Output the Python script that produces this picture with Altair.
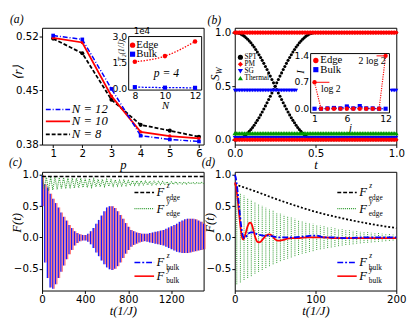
import altair as alt
import pandas as pd

SERIF = "Liberation Serif"
SANS = "DejaVu Sans"
BLUE = "#0000ff"
RED = "#ff0000"
GREEN = "#009900"
LGREEN = "#2e9b2e"
BLACK = "#000000"
PINK = "#ff5a5a"

W = 166
H1 = 120
H2 = 122

# ---------------- panel (a) ----------------
p_vals = [1, 2, 3, 4, 5, 6]
r_n12 = [0.521, 0.516, 0.452, 0.3915, 0.3866, 0.384]
r_n10 = [0.518, 0.512, 0.4426, 0.3964, 0.391, 0.388]
r_n8 = [0.517, 0.498, 0.438, 0.4055, 0.398, 0.390]
a_xdom = [0.62, 6.16]
a_ydom = [0.38, 0.531]
a_leg_labels = ["N = 12", "N = 10", "N = 8"]
a_leg_y = [0.4253, 0.410, 0.3932]
a_leg_x = [0.75, 1.58, 1.64]

ins_a_N = [8, 10, 12]
ins_a_edge = [1.56, 1.89, 2.73]
ins_a_bulk = [0.10, 0.07, 0.06]
ins_a_xdom = [7.59, 12.44]
ins_a_ydom = [-0.07, 3.02]
ins_a_xrange = [89, 164]
ins_a_yrange = [64, 9]

# ---------------- panel (b) ----------------
t_b = [round(0.01 * i, 2) for i in range(101)]
spt_fall = [1.0, 0.999, 0.996, 0.991, 0.984, 0.976, 0.965, 0.952, 0.938, 0.922,
            0.905, 0.885, 0.865, 0.842, 0.819, 0.794, 0.768, 0.741, 0.713, 0.684,
            0.655, 0.624, 0.594, 0.563, 0.531, 0.5, 0.469, 0.437, 0.406, 0.376,
            0.345, 0.316, 0.287, 0.259, 0.232, 0.206, 0.181, 0.158, 0.136, 0.115,
            0.096, 0.078, 0.062, 0.048, 0.035, 0.025, 0.016, 0.009, 0.004, 0.001, 0.0]
spt_rise = [0.0, 0.001, 0.004, 0.009, 0.016, 0.024, 0.035, 0.048, 0.062, 0.078,
            0.095, 0.115, 0.135, 0.158, 0.181, 0.206, 0.232, 0.259, 0.287, 0.316,
            0.345, 0.376, 0.406, 0.437, 0.469, 0.5, 0.531, 0.563, 0.594, 0.624,
            0.655, 0.684, 0.713, 0.741, 0.768, 0.794, 0.819, 0.842, 0.865, 0.885,
            0.905, 0.922, 0.938, 0.952, 0.965, 0.976, 0.984, 0.991, 0.996, 0.999, 1.0]
spt_after_levels = [1.0, 0.0]
pm_levels = [1.0, 0.0]
sg_high = 0.46
sg_low = 0.02
sg_high_tmax = 0.38
sg_high_tmin2 = 0.97
thermal_level = 0.06
b_xdom = [0.0, 1.0]
b_ydom = [-0.045, 1.045]
b_leg_labels = ["SPT", "PM", "SG", "Thermal"]
b_leg_y = [0.77, 0.705, 0.64, 0.575]

ins_b_j = [1, 2, 3, 4, 5, 6, 7, 8, 9, 10, 11, 12]
ins_b_edge = [0.69, 0.0, 0.0, 0.0, 0.0, 0.0, 0.0, 0.0, 0.0, 0.0, 0.0, 1.38]
ins_b_bulk = [0.0, 0.0, 0.01, 0.02, 0.01, 0.06, 0.01, 0.07, 0.01, 0.01, 0.0, 0.0]
ins_b_xdom = [0.4, 12.6]
ins_b_ydom = [-0.11, 1.44]
ins_b_xrange = [78, 159]
ins_b_yrange = [87.5, 26.5]

# ---------------- panel (c) ----------------
t_c = list(range(0, 1501, 25))
bulk_c_hi = [1.0, 0.85, 0.8, 0.7, 0.62, 0.55, 0.48, 0.4, 0.33, 0.27,
             0.2, 0.15, 0.1, 0.07, 0.05, 0.04, 0.04, 0.06, 0.1, 0.15,
             0.22, 0.28, 0.35, 0.42, 0.48, 0.5, 0.5, 0.47, 0.42, 0.36,
             0.3, 0.23, 0.17, 0.12, 0.1, 0.08, 0.07, 0.06, 0.06, 0.06,
             0.07, 0.08, 0.09, 0.1, 0.11, 0.12, 0.14, 0.16, 0.18, 0.2,
             0.22, 0.25, 0.27, 0.29, 0.3, 0.3, 0.3, 0.29, 0.27, 0.25, 0.22]
bulk_c_lo = [0.5, -0.4, -0.65, -0.8, -0.82, -0.75, -0.65, -0.55, -0.45, -0.35,
             -0.27, -0.2, -0.13, -0.09, -0.06, -0.05, -0.05, -0.07, -0.11, -0.17,
             -0.24, -0.3, -0.37, -0.43, -0.48, -0.51, -0.52, -0.5, -0.46, -0.4,
             -0.33, -0.26, -0.2, -0.15, -0.12, -0.1, -0.08, -0.07, -0.06, -0.07,
             -0.08, -0.09, -0.1, -0.11, -0.12, -0.13, -0.15, -0.17, -0.19, -0.21,
             -0.23, -0.24, -0.25, -0.25, -0.25, -0.24, -0.23, -0.22, -0.21, -0.2, -0.19]
green_c_hi_t = list(range(0, 1481, 40))
green_c_hi = [1.0, 0.97, 0.97, 0.965, 0.96, 0.96, 0.955, 0.95, 0.95, 0.945,
              0.94, 0.94, 0.935, 0.93, 0.93, 0.925, 0.92, 0.92, 0.915, 0.915,
              0.91, 0.91, 0.905, 0.905, 0.9, 0.9, 0.9, 0.895, 0.895, 0.89,
              0.89, 0.89, 0.885, 0.885, 0.88, 0.88, 0.88, 0.88]
green_c_lo_t = list(range(20, 1501, 40))
green_c_lo = [0.78, 0.75, 0.76, 0.77, 0.775, 0.78, 0.785, 0.79, 0.795, 0.8,
              0.8, 0.805, 0.81, 0.81, 0.815, 0.82, 0.82, 0.825, 0.825, 0.83,
              0.83, 0.835, 0.835, 0.84, 0.84, 0.84, 0.845, 0.845, 0.85, 0.85,
              0.85, 0.855, 0.855, 0.855, 0.86, 0.86, 0.86, 0.86]
black_c_t = [0, 1500]
black_c_y = [0.975, 0.975]
c_xdom = [0, 1500]
F_ydom = [-0.85, 1.05]
leg_y = [0.72, 0.46, -0.40, -0.62]
leg_sup = ["z", "y", "z", "y"]
leg_sub = ["edge", "edge", "bulk", "bulk"]
c_leg_x = [858, 1040, 1062]

# ---------------- panel (d) ----------------
black_d_t = [0, 25, 50, 75, 100, 125, 150, 175, 200]
black_d_y = [0.85, 0.74, 0.62, 0.51, 0.41, 0.33, 0.26, 0.2, 0.15]
blue_d_t = [0, 1, 2, 3, 4, 5, 6, 7, 8, 9, 10, 11, 12, 14, 16, 18, 20, 22, 25, 28,
            31, 35, 40, 45, 50, 55, 60, 70, 80, 90, 95, 100, 105, 110, 120, 140,
            160, 180, 200]
blue_d_y = [1.0, 0.97, 0.9, 0.8, 0.68, 0.55, 0.42, 0.3, 0.18, 0.09, 0.03, 0.0, -0.01,
            0.01, 0.05, 0.07, 0.08, 0.08, 0.07, 0.05, 0.04, 0.03, 0.03, 0.02, 0.01,
            0.0, 0.0, 0.0, 0.01, 0.02, 0.03, 0.03, 0.02, 0.0, 0.0, -0.01, 0.0, 0.0, 0.0]
red_d_t = [0, 1, 2, 3, 4, 5, 6, 7, 8, 9, 10, 11, 12, 13, 14, 15, 16, 17, 18, 19,
           20, 21, 22, 23, 24, 25, 26, 27, 28, 30, 32, 34, 36, 38, 40, 42, 44, 46,
           48, 50, 53, 56, 60, 65, 70, 80, 90, 100, 110, 120, 140, 160, 180, 200]
red_d_y = [0.88, 0.85, 0.78, 0.68, 0.56, 0.43, 0.3, 0.18, 0.08, 0.0,
           -0.03, -0.03, 0.0, 0.04, 0.09, 0.14, 0.18, 0.21, 0.23, 0.235,
           0.23, 0.21, 0.17, 0.12, 0.07, 0.02, -0.02, -0.05, -0.07,
           -0.08, -0.07, -0.04, -0.01, 0.02, 0.04, 0.05, 0.045, 0.03, 0.0, -0.03,
           -0.05, -0.05, -0.04, -0.02, -0.01, -0.01, 0.0, 0.0, 0.0, -0.01, -0.01,
           -0.01, -0.01, -0.01]
green_d_t = [2.5, 7, 11.5, 16, 20.5, 25, 29.5, 34, 38.5, 43, 47.5, 52, 56.5, 61,
             65.5, 70, 74.5, 79, 83.5, 88, 92.5, 97, 101.5, 106, 110.5, 115, 119.5,
             124, 128.5, 133, 137.5, 142, 146.5, 151, 155.5, 160, 164.5, 169, 173.5,
             178, 182.5, 187, 191.5, 196]
green_d_hi = [0.72, 0.70, 0.67, 0.63, 0.60, 0.57, 0.54, 0.51, 0.48, 0.45,
              0.43, 0.40, 0.38, 0.36, 0.34, 0.32, 0.30, 0.28, 0.26, 0.25,
              0.23, 0.22, 0.20, 0.19, 0.18, 0.17, 0.16, 0.15, 0.14, 0.13,
              0.12, 0.115, 0.11, 0.10, 0.095, 0.09, 0.085, 0.08, 0.075, 0.07,
              0.065, 0.06, 0.055, 0.05]
green_d_lo = [-0.75, -0.72, -0.68, -0.65, -0.62, -0.58, -0.55, -0.52, -0.49, -0.46,
              -0.43, -0.41, -0.38, -0.36, -0.34, -0.32, -0.30, -0.28, -0.26, -0.25,
              -0.23, -0.22, -0.20, -0.19, -0.18, -0.17, -0.16, -0.15, -0.14, -0.13,
              -0.12, -0.115, -0.11, -0.10, -0.095, -0.09, -0.085, -0.08, -0.075, -0.07,
              -0.065, -0.06, -0.055, -0.05]
d_xdom = [0, 200]
d_leg_x = [127, 151, 154]


# ---------------- helpers ----------------
def ax(**kw):
    base = dict(grid=False, domain=False, ticks=True, tickSize=3, tickColor=BLACK,
                labelPadding=1, labelFont=SANS, labelFontSize=10.5, labelColor=BLACK,
                labelFlush=False, labelOverlap=False,
                titleFont=SERIF, titleFontStyle="italic", titleFontWeight="normal",
                titleFontSize=13, titleColor=BLACK)
    base.update(kw)
    return alt.Axis(**base)


def sc(dom, rng=None):
    if rng is None:
        return alt.Scale(domain=dom, nice=False, zero=False)
    return alt.Scale(domain=dom, range=rng, nice=False, zero=False)


def dxy(xs, ys, **extra):
    d = {"x": list(xs), "y": list(ys)}
    for k, v in extra.items():
        d[k] = list(v)
    return pd.DataFrame(d)


def line(df, X, Y, color, dash=None, width=1.5, interp=None):
    kw = dict(color=color, strokeWidth=width)
    if dash:
        kw["strokeDash"] = dash
    if interp:
        kw["interpolate"] = interp
    return alt.Chart(df).mark_line(**kw).encode(x=X, y=Y)


def pts(df, X, Y, color, shape, size):
    return alt.Chart(df).mark_point(shape=shape, filled=True, color=color, size=size,
                                    opacity=1, strokeWidth=0).encode(x=X, y=Y)


def texts(df, X, Y, size, font=SERIF, style="normal", align="left", baseline="middle",
          dx=0, dy=0, angle=0, color=BLACK):
    return alt.Chart(df).mark_text(font=font, fontSize=size, fontStyle=style, align=align,
                                   baseline=baseline, dx=dx, dy=dy, angle=angle,
                                   color=color).encode(x=X, y=Y, text="label:N")


def rules(df, X, Y, color, width, opacity=1.0, dash=None, xoff=0):
    kw = dict(color=color, strokeWidth=width, opacity=opacity, xOffset=xoff)
    if dash:
        kw["strokeDash"] = dash
    return alt.Chart(df).mark_rule(**kw).encode(x=X, y=Y, y2="y2:Q")


def frame(xdom, ydom, X, Y):
    df = pd.DataFrame({"x": [xdom[0]], "x2": [xdom[1]], "y": [ydom[0]], "y2": [ydom[1]]})
    return alt.Chart(df).mark_rect(fill="white", stroke=BLACK, strokeWidth=1).encode(
        x=X, x2="x2:Q", y=Y, y2="y2:Q")


def ptitle(s):
    return alt.TitleParams(text=s, anchor="start", font=SERIF, fontSize=12, fontStyle="italic",
                           fontWeight="normal", offset=1, dx=-2, color=BLACK)


def F_legend(X, Y, lx):
    n = len(leg_y)
    layers = [
        line(dxy([lx[0], lx[1]], [leg_y[0]] * 2), X, Y, BLACK, [4, 2], 1.6),
        line(dxy([lx[0], lx[1]], [leg_y[1]] * 2), X, Y, LGREEN, [1, 1], 1.4),
        line(dxy([lx[0], lx[1]], [leg_y[2]] * 2), X, Y, BLUE, [6, 2, 2, 2], 1.6),
        line(dxy([lx[0], lx[1]], [leg_y[3]] * 2), X, Y, RED, None, 1.6),
        texts(dxy([lx[2]] * n, leg_y, label=["F"] * n), X, Y, 13, SERIF, "italic"),
        texts(dxy([lx[2]] * n, leg_y, label=leg_sup), X, Y, 7.5, SERIF, "italic", dx=10.5, dy=-6.5),
        texts(dxy([lx[2]] * n, leg_y, label=leg_sub), X, Y, 7.5, SERIF, "normal", dx=10, dy=5.5),
    ]
    return layers


# ---------------- build (a) ----------------
XA = alt.X("x:Q", scale=sc(a_xdom), axis=ax(values=p_vals, format="d", title="p", titlePadding=0))
YA = alt.Y("y:Q", scale=sc(a_ydom), axis=ax(values=[0.38, 0.45, 0.52], format=".2f", title="⟨r⟩",
                                           titleX=-18, titleY=45, titleAngle=270,
                                           titleAlign="center", titleBaseline="bottom"))
a_main = alt.layer(
    line(dxy(p_vals, r_n8), XA, YA, BLACK, [4, 2], 1.8),
    pts(dxy(p_vals, r_n8), XA, YA, BLACK, "circle", 18),
    line(dxy(p_vals, r_n10), XA, YA, RED, None, 1.8),
    pts(dxy(p_vals, r_n10), XA, YA, RED, "circle", 12),
    line(dxy(p_vals, r_n12), XA, YA, BLUE, [5, 2, 1, 2], 1.5),
    pts(dxy(p_vals, r_n12), XA, YA, BLUE, "square", 14),
    line(dxy(a_leg_x[:2], [a_leg_y[0]] * 2), XA, YA, BLUE, [5, 2, 1, 2], 1.6),
    line(dxy(a_leg_x[:2], [a_leg_y[1]] * 2), XA, YA, RED, None, 1.8),
    line(dxy(a_leg_x[:2], [a_leg_y[2]] * 2), XA, YA, BLACK, [4, 2], 1.8),
    texts(dxy([a_leg_x[2]] * 3, a_leg_y, label=a_leg_labels), XA, YA, 13, SERIF, "italic"),
)
XIA = alt.X("x:Q", scale=sc(ins_a_xdom, ins_a_xrange),
            axis=ax(orient="bottom", offset=ins_a_yrange[0] - H1, values=ins_a_N, format="d",
                    title="N", titleFontSize=11, titlePadding=-1, ticks=False,
                    labelFontSize=9.5, labelPadding=1))
YIA = alt.Y("y:Q", scale=sc(ins_a_ydom, ins_a_yrange),
            axis=ax(orient="left", offset=-ins_a_xrange[0], values=[0.0, 1.5, 3.0], format=".1f",
                    title="T₂(1/J)", titleFontSize=8, ticks=False, labelFontSize=9.5,
                    labelPadding=2, titleX=-3, titleY=23, titleAngle=270,
                    titleAlign="center", titleBaseline="bottom"))
a_inset = alt.layer(
    frame(ins_a_xdom, ins_a_ydom, XIA, YIA),
    line(dxy(ins_a_N, ins_a_edge), XIA, YIA, RED, [1.5, 1.5], 1.3, "monotone"),
    pts(dxy(ins_a_N, ins_a_edge), XIA, YIA, RED, "circle", 22),
    line(dxy(ins_a_N, ins_a_bulk), XIA, YIA, BLUE, [2, 1.5], 1.3),
    pts(dxy(ins_a_N, ins_a_bulk), XIA, YIA, BLUE, "square", 18),
    pts(dxy([7.85], [2.52]), XIA, YIA, RED, "circle", 30),
    pts(dxy([7.85], [2.0]), XIA, YIA, BLUE, "square", 28),
    texts(dxy([8.1, 8.1], [2.52, 2.0], label=["Edge", "Bulk"]), XIA, YIA, 11, SERIF),
    texts(dxy([10.1], [0.92], label=["p = 4"]), XIA, YIA, 12, SERIF, "italic", align="center"),
    texts(dxy([7.92], [ins_a_ydom[1]], label=["1e4"]), XIA, YIA, 9, SANS, baseline="bottom", dy=-1),
)
panel_a = alt.layer(a_main, a_inset).resolve_scale(x="independent", y="independent").properties(
    width=W, height=H1, title=ptitle("(a)"))

# ---------------- build (b) ----------------
XB = alt.X("x:Q", scale=sc(b_xdom), axis=ax(values=[0.0, 0.5, 1.0], format=".1f", title="t", titlePadding=0))
YB = alt.Y("y:Q", scale=sc(b_ydom), axis=ax(values=[0.0, 0.5, 1.0], format=".1f", title=None))
t_half = t_b[:51]
t_after = t_b[51:]
spt_df = dxy(t_half + t_half + t_after + t_after,
             spt_fall + spt_rise + [spt_after_levels[0]] * len(t_after) + [spt_after_levels[1]] * len(t_after))
pm_df = dxy(t_b + t_b, [pm_levels[0]] * len(t_b) + [pm_levels[1]] * len(t_b))
sg_hi_t = [t for t in t_b if t <= sg_high_tmax or t >= sg_high_tmin2]
sg_df = dxy(sg_hi_t + t_b, [sg_high] * len(sg_hi_t) + [sg_low] * len(t_b))
th_df = dxy(t_b, [thermal_level] * len(t_b))
b_main = alt.layer(
    pts(spt_df, XB, YB, BLACK, "circle", 10),
    pts(th_df, XB, YB, GREEN, "triangle-up", 22),
    pts(sg_df, XB, YB, BLUE, "triangle-down", 16),
    pts(pm_df, XB, YB, RED, "diamond", 22),
    pts(dxy([0.035], [b_leg_y[0]]), XB, YB, BLACK, "circle", 28),
    pts(dxy([0.035], [b_leg_y[1]]), XB, YB, RED, "diamond", 28),
    pts(dxy([0.035], [b_leg_y[2]]), XB, YB, BLUE, "triangle-down", 28),
    pts(dxy([0.035], [b_leg_y[3]]), XB, YB, GREEN, "triangle-up", 28),
    texts(dxy([0.06] * 4, b_leg_y, label=b_leg_labels), XB, YB, 7.5, SERIF),
    texts(dxy([-0.12], [0.58], label=["S"]), XB, YB, 13, SERIF, "italic", align="center", angle=270),
    texts(dxy([-0.12], [0.58], label=["W"]), XB, YB, 8.5, SERIF, "italic", align="center",
          angle=270, dx=7, dy=4),
)
XIB = alt.X("x:Q", scale=sc(ins_b_xdom, ins_b_xrange),
            axis=ax(orient="bottom", offset=ins_b_yrange[0] - H1, values=[1, 6, 12], format="d",
                    title="j", titleFontSize=11, titlePadding=-1, ticks=False,
                    labelFontSize=9.5, labelPadding=1))
YIB = alt.Y("y:Q", scale=sc(ins_b_ydom, ins_b_yrange),
            axis=ax(orient="left", offset=-ins_b_xrange[0], values=[0.0, 0.7, 1.4], format=".1f",
                    title="I", titleFontSize=11, ticks=False, labelFontSize=9.5, labelPadding=2,
                    titleX=-5, titleY=45, titleAngle=270, titleAlign="center",
                    titleBaseline="bottom"))
b_inset = alt.layer(
    frame(ins_b_xdom, ins_b_ydom, XIB, YIB),
    line(dxy(ins_b_j, ins_b_bulk), XIB, YIB, BLUE, [2, 1.5], 1.2),
    line(dxy(ins_b_j, ins_b_edge), XIB, YIB, RED, [1.2, 1.2], 1.2),
    pts(dxy(ins_b_j, ins_b_bulk), XIB, YIB, BLUE, "square", 18),
    pts(dxy(ins_b_j, ins_b_edge), XIB, YIB, RED, "circle", 20),
    line(dxy([1, 3.3], [0.69, 0.69]), XIB, YIB, RED, None, 1.0),
    line(dxy([10.6, 12], [1.38, 1.38]), XIB, YIB, RED, None, 1.0),
    texts(dxy([2.0], [0.5], label=["log 2"]), XIB, YIB, 10, SERIF),
    texts(dxy([12.0], [1.24], label=["2 log 2"]), XIB, YIB, 10, SERIF, align="right"),
    pts(dxy([1.2], [1.26]), XIB, YIB, RED, "circle", 30),
    pts(dxy([1.2], [1.02]), XIB, YIB, BLUE, "square", 28),
    texts(dxy([1.9, 1.9], [1.26, 1.02], label=["Edge", "Bulk"]), XIB, YIB, 11, SERIF),
)
panel_b = alt.layer(b_main, b_inset).resolve_scale(x="independent", y="independent").properties(
    width=W, height=H1, title=ptitle("(b)"))

# ---------------- build (c) ----------------
XC = alt.X("x:Q", scale=sc(c_xdom), axis=ax(values=[0, 400, 800, 1200], format="d",
                                           title="t(1/J)", titlePadding=0))
YF = alt.Y("y:Q", scale=sc(F_ydom), axis=ax(values=[-0.5, 0.0, 0.5, 1.0], format=".1f", title="F(t)",
                                           titleX=-19, titleY=52, titleAngle=270,
                                           titleAlign="center", titleBaseline="bottom"))
bulk_df = pd.DataFrame({"x": t_c, "y": bulk_c_lo, "y2": bulk_c_hi})
green_c_df = dxy(green_c_hi_t + green_c_lo_t, green_c_hi + green_c_lo)
panel_c = alt.layer(
    rules(bulk_df, XC, YF, BLUE, 1.5, 0.9),
    rules(bulk_df, XC, YF, PINK, 1.3, 0.8, xoff=1.4),
    line(green_c_df, XC, YF, LGREEN, [1, 1], 1.1),
    line(dxy(black_c_t, black_c_y), XC, YF, BLACK, [4, 2], 1.6),
    *F_legend(XC, YF, c_leg_x),
).properties(width=W, height=H2, title=ptitle("(c)"))

# ---------------- build (d) ----------------
XD = alt.X("x:Q", scale=sc(d_xdom), axis=ax(values=[0, 100, 200], format="d",
                                           title="t(1/J)", titlePadding=0))
green_d_df = pd.DataFrame({"x": green_d_t, "y": green_d_lo, "y2": green_d_hi})
panel_d = alt.layer(
    rules(green_d_df, XD, YF, LGREEN, 1.0, 1.0, dash=[1, 1]),
    line(dxy(black_d_t, black_d_y), XD, YF, BLACK, [2, 2], 1.8, "monotone"),
    line(dxy(red_d_t, red_d_y), XD, YF, RED, None, 1.8, "monotone"),
    line(dxy(blue_d_t, blue_d_y), XD, YF, BLUE, [6, 2, 2, 2], 1.8, "monotone"),
    *F_legend(XD, YF, d_leg_x),
).properties(width=W, height=H2, title=ptitle("(d)"))

chart = alt.concat(panel_a, panel_b, panel_c, panel_d, columns=2,
                   spacing={"row": 28, "column": 32}, bounds="flush").properties(
    padding=0, background="white"
).configure_view(stroke=BLACK, strokeWidth=1)

chart.save("out.html", embed_options={"renderer": "svg", "actions": False})
